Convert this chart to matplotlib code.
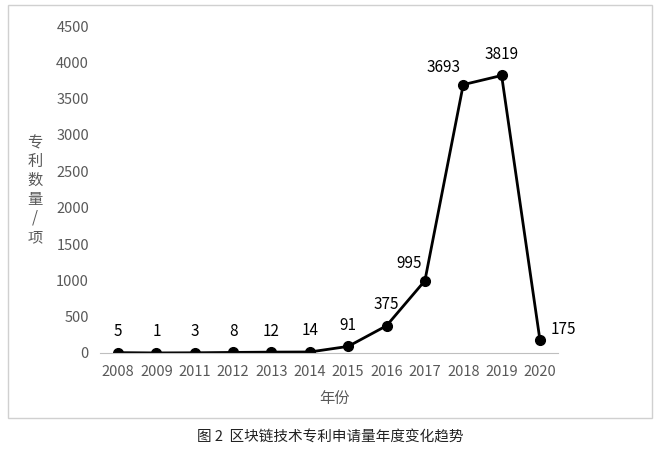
import matplotlib.pyplot as plt
from matplotlib.patches import Rectangle

plt.rcParams['font.family'] = ['Noto Sans CJK SC', 'DejaVu Sans']

years = ['2008', '2009', '2011', '2012', '2013', '2014', '2015', '2016', '2017', '2018', '2019', '2020']
counts = [5, 1, 3, 8, 12, 14, 91, 375, 995, 3693, 3819, 175]
yticks = list(range(0, 4501, 500))

fig = plt.figure(figsize=(6.6, 4.49), dpi=100)
fig.patches.append(Rectangle((8 / 660, 1 - 418 / 449), 644 / 660, 413 / 449,
                             transform=fig.transFigure, fill=False,
                             edgecolor='#d0d0d0', linewidth=1))
ax = fig.add_axes([100 / 660, 1 - 353 / 449, 458 / 660, 327 / 449])

x = list(range(len(years)))
ax.plot(x, counts, color='black', linewidth=2, marker='o', markersize=7)
ax.set_xlim(-0.47, 11.47)
ax.set_ylim(0, 4500)
ax.set_xticks(x)
ax.set_xticklabels(years)
ax.set_yticks(yticks)
ax.tick_params(axis='both', length=0, labelsize=10.5, colors='#595959')
ax.tick_params(axis='x', pad=9)
ax.tick_params(axis='y', pad=8)
for s in ['top', 'right', 'left']:
    ax.spines[s].set_visible(False)
ax.spines['bottom'].set_color('#bfbfbf')

for i, v in enumerate(counts):
    if v == 175:
        off, ha = (8, 2), 'left'
    elif v in (995, 3693):
        off, ha = (-2, 6), 'right'
    else:
        off, ha = (0, 9), 'center'
    ax.annotate(str(v), (i, v), xytext=off, textcoords='offset points',
                ha=ha, va='bottom', fontsize=11, color='black')

fig.text(335 / 660, 1 - 398 / 449, '年份', ha='center', va='center', fontsize=11, color='#595959')
fig.text(35 / 660, 1 - 190 / 449, '专\n利\n数\n量\n/\n项', ha='center', va='center',
         fontsize=11, color='#595959', linespacing=1.15)
fig.text(330 / 660, 1 - 437 / 449, '图 2  区块链技术专利申请量年度变化趋势', ha='center',
         va='center', fontsize=10.5, color='#222222')

fig.savefig('out.png', dpi=100)
